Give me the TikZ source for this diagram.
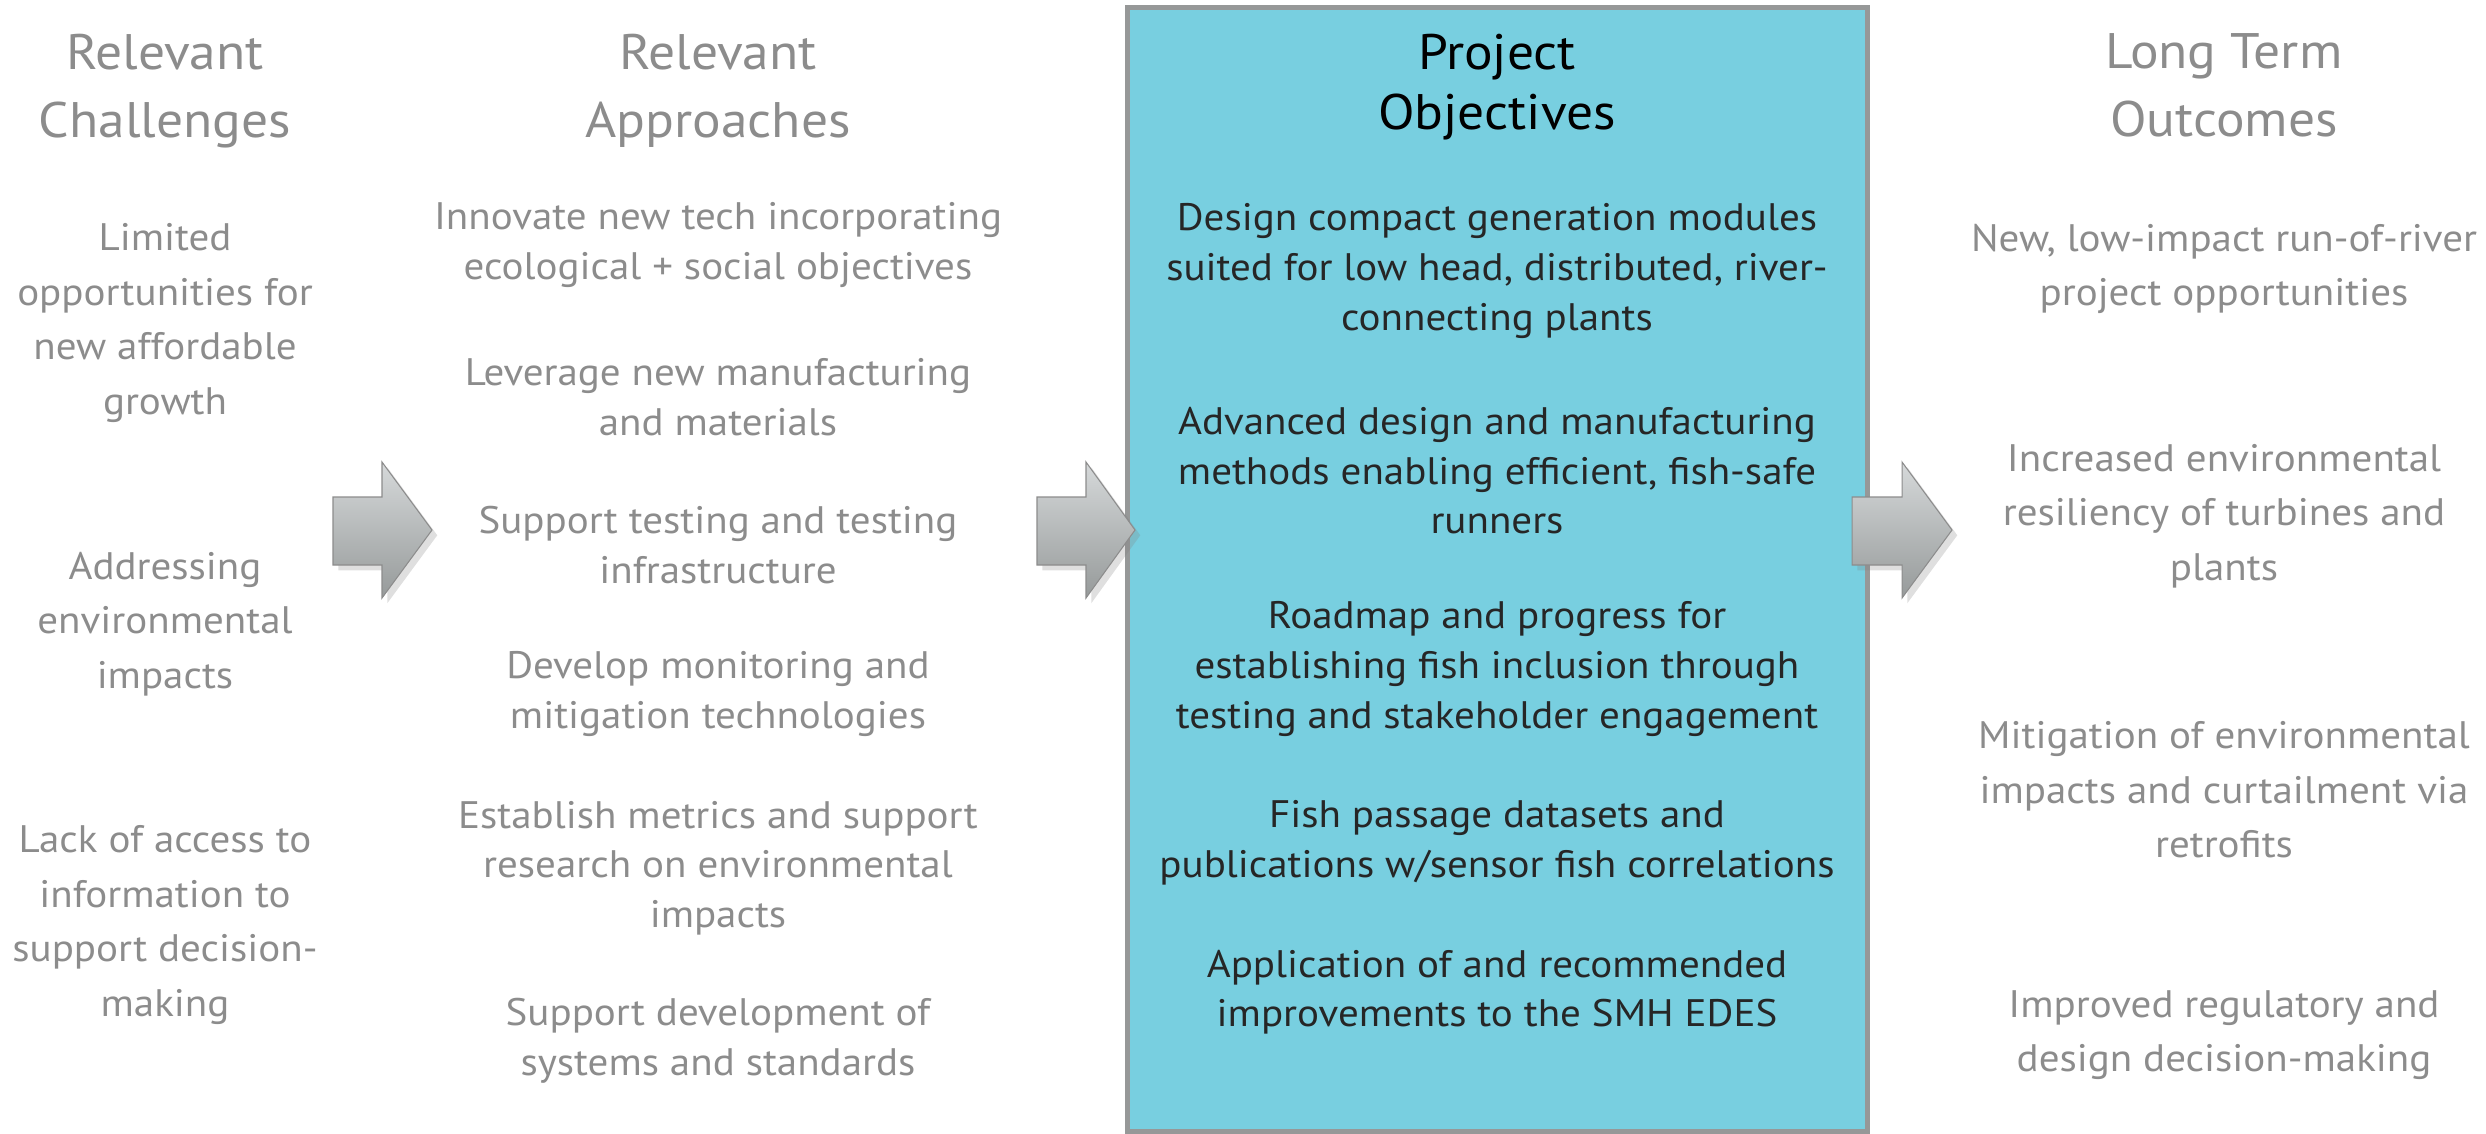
\documentclass[tikz,border=0pt]{standalone}
\usepackage{fontspec}
\setmainfont{PT Sans}[FakeStretch=1.07]
\usepackage{tikz}
\usetikzlibrary{shadows}

\definecolor{txtgray}{RGB}{140,140,140}
\definecolor{objblue}{RGB}{120,207,224}
\definecolor{objedge}{RGB}{150,152,152}
\definecolor{objtext}{RGB}{38,38,38}

\begin{document}
\begin{tikzpicture}[x=0.01cm, y=-0.01cm,
    hdr/.style={align=center, text=txtgray, font=\fontsize{14.2}{19.3}\selectfont},
    item/.style={align=center, text=txtgray, font=\fontsize{10.9}{15.5}\selectfont},
    apitem/.style={align=center, text=txtgray, font=\fontsize{10.9}{14.1}\selectfont},
    objhdr/.style={align=center, text=black, font=\fontsize{14.2}{17}\selectfont},
    objitem/.style={align=center, text=objtext, font=\fontsize{10.9}{14.1}\selectfont},
    blockarrow/.style={draw=black!45, line width=0.3pt, top color={rgb,255:red,214;green,217;blue,218},
        bottom color={rgb,255:red,150;green,154;blue,154},
        drop shadow={shadow xshift=1.5pt, shadow yshift=-1.5pt, opacity=0.25}}]
    \useasboundingbox (0,0) rectangle (2486,1133);

    % Project objectives panel
    \node[draw=objedge, fill=objblue, line width=1.42pt, minimum width=7.40cm,
          minimum height=11.235cm, inner sep=0pt] (objbox) at (1497.5,569.25) {};

    % Block arrows between the columns
    \path[blockarrow] (333,497) -- ++(49,0) -- ++(0,-35) -- (432,530) -- (382,598) -- ++(0,-33) -- (333,565) -- cycle;
    \path[blockarrow] (1037,497) -- ++(49,0) -- ++(0,-35) -- (1135,530) -- (1086,598) -- ++(0,-33) -- (1037,565) -- cycle;
    \path[blockarrow] (1852,497) -- ++(50,0) -- ++(0,-35) -- (1952,530) -- (1902,598) -- ++(0,-33) -- (1852,565) -- cycle;

    % Column headers
    \node[hdr] (chHead) at (165,91) {Relevant\\Challenges};
    \node[hdr] (apHead) at (718,91) {Relevant\\Approaches};
    \node[objhdr] (obHead) at (1497,87) {Project\\Objectives};
    \node[hdr] (ltHead) at (2224,85) {Long Term\\Outcomes};

    % Challenges
    \node[item] (ch1) at (165,323) {Limited\\opportunities for\\new affordable\\growth};
    \node[item] (ch2) at (165,624) {Addressing\\environmental\\impacts};
    \node[item] (ch3) at (165,925) {Lack of access to\\information to\\support decision-\\making};

    % Approaches
    \node[apitem] (ap1) at (718,245) {Innovate new tech incorporating\\ecological + social objectives};
    \node[apitem] (ap2) at (718,397) {Leverage new manufacturing\\and materials};
    \node[apitem] (ap3) at (718,545) {Support testing and testing\\infrastructure};
    \node[apitem] (ap4) at (718,694) {Develop monitoring and\\mitigation technologies};
    \node[apitem] (ap5) at (718,868) {Establish metrics and support\\research on environmental\\impacts};
    \node[apitem] (ap6) at (718,1041) {Support development of\\systems and standards};

    % Objectives
    \node[objitem] (ob1) at (1497,271) {Design compact generation modules\\suited for low head, distributed, river-\\connecting plants};
    \node[objitem] (ob2) at (1497,471) {Advanced design and manufacturing\\methods enabling efficient, fish-safe\\runners};
    \node[objitem] (ob3) at (1497,669) {Roadmap and progress for\\establishing fish inclusion through\\testing and stakeholder engagement};
    \node[objitem] (ob4) at (1497,843) {Fish passage datasets and\\publications w/sensor fish correlations};
    \node[objitem] (ob5) at (1497,992) {Application of and recommended\\improvements to the SMH EDES};

    % Outcomes
    \node[item] (lt1) at (2224,269) {New, low-impact run-of-river\\project opportunities};
    \node[item] (lt2) at (2224,516) {Increased environmental\\resiliency of turbines and\\plants};
    \node[item] (lt3) at (2224,790) {Mitigation of environmental\\impacts and curtailment via\\retrofits};
    \node[item] (lt4) at (2224,1035) {Improved regulatory and\\design decision-making};
\end{tikzpicture}
\end{document}
